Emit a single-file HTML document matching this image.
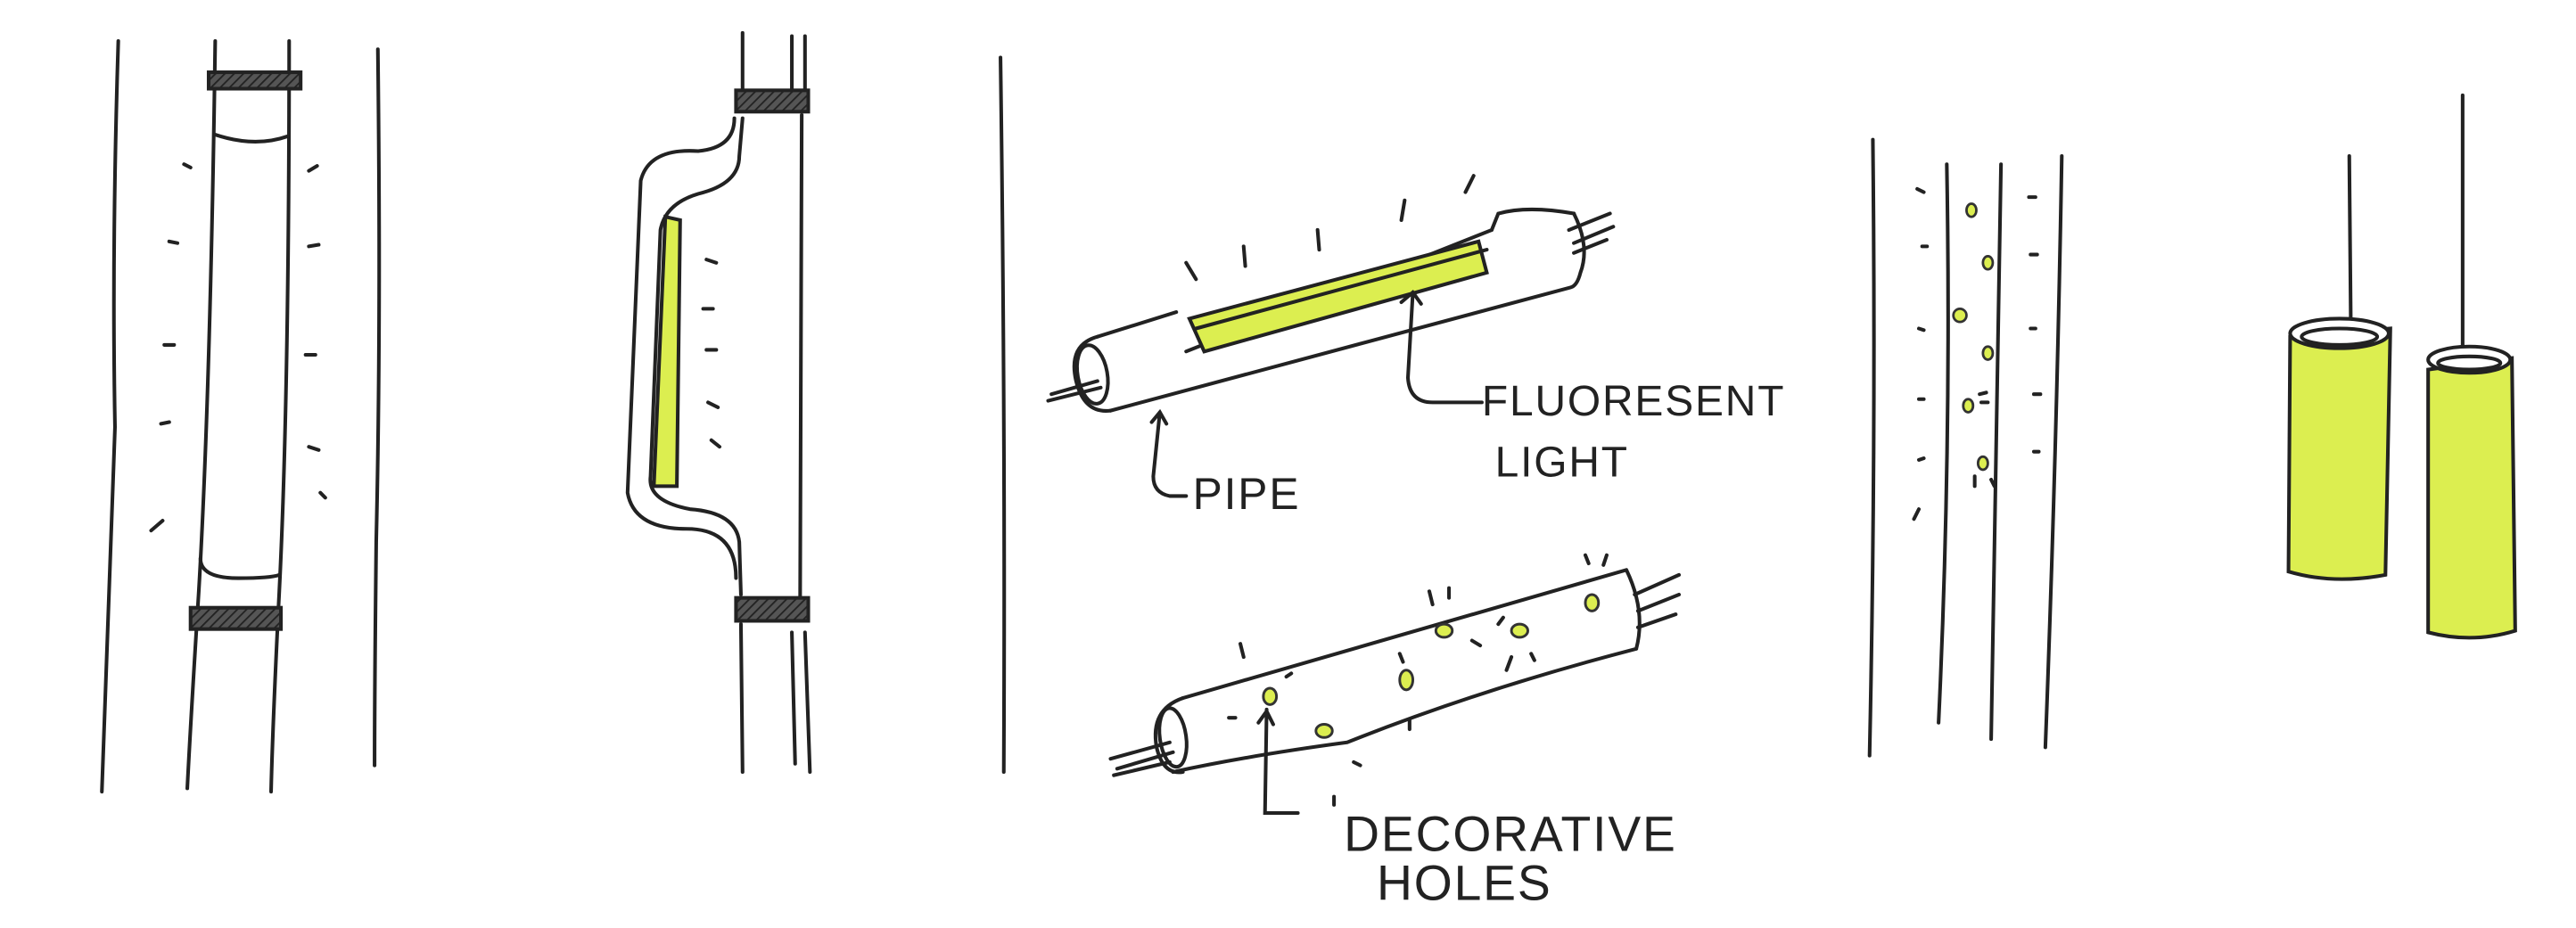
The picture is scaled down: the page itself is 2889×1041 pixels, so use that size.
<!DOCTYPE html>
<html><head><meta charset="utf-8"><style>
html,body{margin:0;padding:0;background:#fff;width:2889px;height:1041px;overflow:hidden}
svg{display:block}
text{font-family:"Liberation Sans",sans-serif;fill:#222;letter-spacing:1px}
</style></head><body>
<svg width="2889" height="1041" viewBox="0 0 1568 565" preserveAspectRatio="none">
<defs>
<pattern id="h" width="4" height="4" patternUnits="userSpaceOnUse" patternTransform="rotate(45)">
<rect width="4" height="4" fill="#555"/><line x1="0" y1="0" x2="0" y2="4" stroke="#222" stroke-width="2"/></pattern>
</defs>
<rect width="1568" height="565" fill="#fff"/>
<g fill="none" stroke="#222" stroke-width="2.2" stroke-linecap="round">
<!-- sketch 1 -->
<path d="M72 25 Q68 150 70 260 Q66 380 62 482"/>
<path d="M230 30 Q232 200 229 330 Q228 420 228 466"/>
<path d="M131 25 Q128 240 121 360 Q116 440 114 480"/>
<path d="M176 25 Q176 240 170 360 Q166 440 165 482"/>
<rect x="127" y="44" width="56" height="10" fill="url(#h)"/>
<rect x="116" y="370" width="55" height="13" fill="url(#h)"/>
<path d="M131 82 Q155 90 175 83"/>
<path d="M122 340 Q122 352 145 352 Q165 352 170 350"/>
<path d="M112 100 l4 2 M103 147 l5 1 M100 210 l6 0 M98 258 l5 -1 M92 323 l7 -6 M188 104 l5 -3 M188 150 l6 -1 M186 216 l6 0 M188 272 l6 2 M195 300 l3 3"/>
<!-- sketch 2 -->
<path d="M452 20 L452 62 M452 72 L450 95 Q450 112 425 118 Q405 124 402 140 L396 290 Q394 305 420 310 Q448 312 450 330 L451 362 M451 380 L452 470"/>
<path d="M482 22 L482 55 M490 22 L490 55 M488 70 L487 375 M490 385 L493 470 M482 385 L484 465"/>
<path d="M447 72 Q447 90 425 92 Q395 90 390 110 L382 300 Q386 322 418 322 Q448 322 448 352"/>
<rect x="448" y="55" width="44" height="13" fill="url(#h)"/>
<rect x="448" y="364" width="44" height="14" fill="url(#h)"/>
<path d="M405 132 L398 296 L412 296 L414 134 Z" fill="#dcee50"/>
<path d="M430 158 l6 2 M428 188 l6 0 M430 213 l6 0 M431 245 l6 3 M433 268 l5 4"/>
<!-- divider -->
<path d="M609 35 Q612 250 611 470"/>
<!-- sketch 3 pipe with light -->
<path d="M668 205 L716 190 M722 214 L908 140 M958 130 Q968 150 962 166 Q960 174 956 175 M676 250 L956 175"/>
<path d="M668 205 Q650 210 655 232 Q660 252 676 250"/>
<ellipse cx="665" cy="228" rx="9" ry="18" transform="rotate(-10 665 228)"/>
<path d="M908 140 L912 130 Q930 125 958 130"/>
<path d="M638 244 L670 236 M640 240 L668 232 M955 140 L980 130 M958 148 L982 138 M958 154 L978 146"/>
<path d="M724 194 L900 147 L905 166 L733 214 Z" fill="#dcee50"/>
<path d="M728 200 L905 152"/>
<path d="M722 160 l6 10 M757 150 l1 12 M802 140 l1 12 M855 122 l-2 12 M897 107 l-5 10"/>
<path d="M860 178 L857 230 Q858 245 872 245 L902 245 M853 184 l7 -6 l5 7"/>
<path d="M706 251 L702 290 Q702 300 712 302 L722 302 M701 257 l5 -6 l4 7"/>
<!-- sketch 3 pipe with holes -->
<path d="M720 425 L990 347 M714 470 Q760 460 820 452 Q900 420 996 395 M990 347 Q1002 372 996 395"/>
<path d="M720 425 Q700 432 704 455 Q708 472 720 470"/>
<ellipse cx="714" cy="449" rx="8" ry="18" transform="rotate(-8 714 449)"/>
<path d="M676 462 L712 452 M680 468 L714 458 M678 472 L712 464 M995 362 L1022 350 M997 372 L1022 362 M997 382 L1020 374"/>
<path d="M771 432 L770 495 L790 495 M766 440 l5 -7 l4 8"/>
<g fill="#dcee50" stroke="#333" stroke-width="1.6">
<ellipse cx="773" cy="424" rx="4" ry="5"/><ellipse cx="806" cy="445" rx="5" ry="4"/><ellipse cx="856" cy="414" rx="4" ry="6"/><ellipse cx="879" cy="384" rx="5" ry="4"/><ellipse cx="925" cy="384" rx="5" ry="4"/><ellipse cx="969" cy="367" rx="4" ry="5"/>
</g>
<path d="M755 392 l2 8 M748 437 l4 0 M783 412 l3 -2 M852 398 l2 5 M870 360 l2 8 M882 358 l0 6 M896 390 l5 3 M912 380 l3 -4 M920 400 l-3 8 M932 398 l2 4 M965 338 l2 5 M978 338 l-2 6 M824 464 l4 2 M812 485 l0 5 M858 438 l0 6"/>
<!-- sketch 4 -->
<path d="M1140 85 Q1142 270 1138 460 M1255 95 Q1252 270 1245 455"/>
<path d="M1185 100 Q1188 270 1180 440 M1218 100 Q1215 270 1212 450"/>
<path d="M1167 115 l4 2 M1170 150 l3 0 M1168 200 l3 1 M1168 243 l3 0 M1168 280 l3 -1 M1168 310 l-3 6 M1235 120 l4 0 M1236 155 l4 0 M1236 200 l3 0 M1238 240 l4 0 M1238 275 l3 0 M1205 240 l4 -1 M1206 245 l4 0 M1202 290 l0 6 M1212 292 l2 4"/>
<g fill="#dcee50" stroke="#333" stroke-width="1.5">
<ellipse cx="1200" cy="128" rx="3" ry="4"/><ellipse cx="1210" cy="160" rx="3" ry="4"/><ellipse cx="1193" cy="192" rx="4" ry="4"/><ellipse cx="1210" cy="215" rx="3" ry="4"/><ellipse cx="1198" cy="247" rx="3" ry="4"/><ellipse cx="1207" cy="282" rx="3" ry="4"/>
</g>
<!-- sketch 5 -->
<path d="M1430 95 L1431 205 M1499 58 L1499 220"/>
<path d="M1394 205 L1393 348 Q1420 356 1452 350 L1455 200 Z" fill="#dcee50"/>
<ellipse cx="1424" cy="203" rx="30" ry="9" fill="#fff"/>
<ellipse cx="1424" cy="205" rx="23" ry="5"/>
<path d="M1478 225 L1478 385 Q1505 392 1531 384 L1529 218 Z" fill="#dcee50"/>
<ellipse cx="1503" cy="219" rx="25" ry="8" fill="#fff"/>
<ellipse cx="1503" cy="221" rx="19" ry="4"/>
</g>
<text x="902" y="253" font-size="26">FLUORESENT</text>
<text x="910" y="290" font-size="26">LIGHT</text>
<text x="726" y="310" font-size="27">PIPE</text>
<text x="818" y="518" font-size="30">DECORATIVE</text>
<text x="838" y="548" font-size="30">HOLES</text>
</svg>
</body></html>
